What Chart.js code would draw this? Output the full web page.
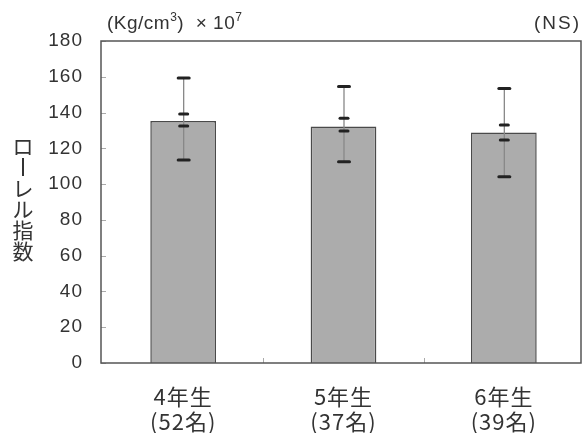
<!DOCTYPE html>
<html lang="ja">
<head>
<meta charset="UTF-8">
<title>ローレル指数</title>
<script src="https://cdn.jsdelivr.net/npm/chart.js"></script>
<style>
  body { margin: 0; background: #fff; }
  canvas { display: block; }
</style>
</head>
<body>
<canvas id="chart" width="584" height="433"></canvas>
<script>
// data
const grades = [['4年生', '(52名)'], ['5年生', '(37名)'], ['6年生', '(39名)']];
const means = [135.3, 132.2, 128.8];
const sdUpper = [159.3, 154.5, 153.5];
const sdLower = [113.5, 112.5, 104.1];
const seUpper = [139.2, 136.8, 133.0];
const seLower = [132.5, 129.7, 124.7];
const yTicks = [0, 20, 40, 60, 80, 100, 120, 140, 160, 180];

const ink = '#333';
const latin = '"Liberation Sans", Arial, sans-serif';
const cjk = '"Noto Sans CJK JP", sans-serif';

// the printed frame sits a few px left of where the bars are centred
const frameLeft = 101;
const frameRight = 581;

const decor = {
  id: 'decor',
  beforeDraw(chart) {
    chart.ctx.letterSpacing = '1px';
  },
  afterDatasetsDraw(chart) {
    const { ctx, chartArea: a, scales: { x, y } } = chart;
    ctx.save();

    // small inward ticks on the y axis
    ctx.strokeStyle = '#aaa';
    ctx.lineWidth = 1;
    yTicks.forEach(v => {
      const py = Math.round(y.getPixelForValue(v)) + 0.5;
      ctx.beginPath();
      ctx.moveTo(frameLeft, py);
      ctx.lineTo(frameLeft + 5, py);
      ctx.stroke();
    });
    // category separators at the bottom
    for (let i = 0; i < grades.length - 1; i++) {
      const px = Math.round((x.getPixelForValue(i) + x.getPixelForValue(i + 1)) / 2) + 0.5;
      ctx.beginPath();
      ctx.moveTo(px, a.bottom);
      ctx.lineTo(px, a.bottom - 5);
      ctx.stroke();
    }

    // error bars: SD whisker with SE marks
    means.forEach((m, i) => {
      const px = x.getPixelForValue(i) + 0.5;
      ctx.strokeStyle = '#888';
      ctx.lineWidth = 1.3;
      ctx.beginPath();
      ctx.moveTo(px, y.getPixelForValue(sdUpper[i]));
      ctx.lineTo(px, y.getPixelForValue(sdLower[i]));
      ctx.stroke();

      ctx.strokeStyle = '#222';
      ctx.lineCap = 'round';
      ctx.lineWidth = 3;
      const cap = (v, w) => {
        const py = y.getPixelForValue(v);
        ctx.beginPath();
        ctx.moveTo(px - w / 2, py);
        ctx.lineTo(px + w / 2, py);
        ctx.stroke();
      };
      cap(sdUpper[i], 11);
      cap(sdLower[i], 11);
      cap(seUpper[i], 8);
      cap(seLower[i], 8);
      ctx.lineCap = 'butt';
    });

    // plot frame
    ctx.strokeStyle = '#555';
    ctx.lineWidth = 1.5;
    ctx.strokeRect(frameLeft, a.top, frameRight - frameLeft, a.bottom - a.top);

    // unit label with superscripts
    ctx.fillStyle = ink;
    ctx.textBaseline = 'alphabetic';
    ctx.textAlign = 'left';
    ctx.letterSpacing = '0.5px';
    const base = 29;
    let cx = 107;
    const put = (t, size, dy) => {
      ctx.font = size + 'px ' + latin;
      ctx.fillText(t, cx, base + dy);
      cx += ctx.measureText(t).width;
    };
    put('(Kg/cm', 19, 0);
    put('3', 12, -8);
    put(')  × 10', 19, 0);
    put('7', 12, -8);

    ctx.letterSpacing = '2px';
    ctx.font = '19px ' + latin;
    ctx.textAlign = 'right';
    ctx.fillText('(NS)', 581, base);

    // vertical y axis title, stacked characters
    ctx.letterSpacing = '0px';
    ctx.font = '21px ' + cjk;
    ctx.textAlign = 'center';
    ctx.textBaseline = 'middle';
    const title = ['ロ', '|', 'レ', 'ル', '指', '数'];
    title.forEach((c, k) => {
      const cy = 146 + k * 21;
      if (c === '|') {
        ctx.fillRect(22, cy - 9, 2, 18);
      } else {
        ctx.fillText(c, 23, cy);
      }
    });

    ctx.restore();
  }
};

new Chart(document.getElementById('chart'), {
  type: 'bar',
  data: {
    labels: grades,
    datasets: [{
      data: means,
      backgroundColor: '#acacac',
      borderColor: '#4a4a4a',
      borderWidth: 1.5,
      categoryPercentage: 1,
      barPercentage: 0.41
    }]
  },
  options: {
    responsive: false,
    animation: false,
    layout: { padding: { top: 41, right: 0, left: 0, bottom: 0 } },
    plugins: {
      legend: { display: false },
      tooltip: { enabled: false }
    },
    scales: {
      x: {
        grid: { display: false, drawTicks: false },
        border: { display: false },
        ticks: {
          color: ink,
          padding: 22,
          maxRotation: 0,
          font: { family: cjk, size: 22, lineHeight: 1.1 }
        },
        afterFit(s) { s.height = 70; }
      },
      y: {
        min: 0,
        max: 180,
        grid: { display: false, drawTicks: false },
        border: { display: false },
        ticks: {
          stepSize: 20,
          color: ink,
          padding: 20,
          font: { family: latin, size: 19 }
        },
        afterFit(s) { s.width = 103; }
      }
    }
  },
  plugins: [decor]
});
</script>
</body>
</html>
